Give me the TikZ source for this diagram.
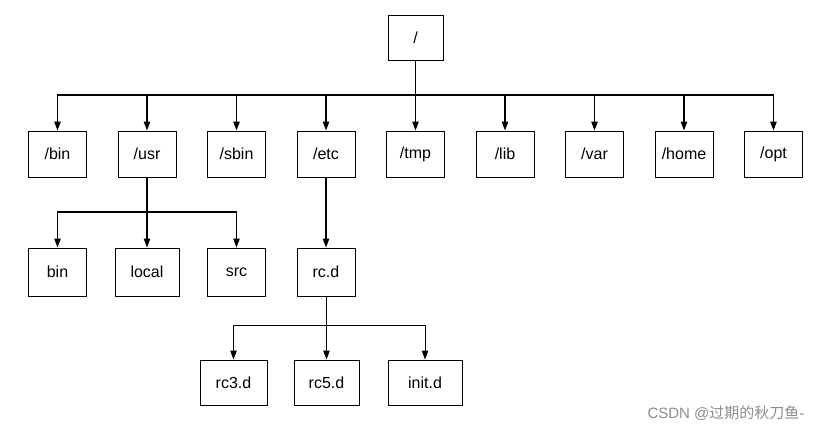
\documentclass[tikz,border=0pt]{standalone}
\usepackage{fontspec}
\setmainfont{Liberation Sans}
\newfontfamily\cjk{Noto Sans CJK SC}
\usetikzlibrary{arrows.meta, positioning}

\begin{document}
\begin{tikzpicture}[x=1pt, y=-1pt]
	\tikzset {>={Triangle[length=9pt, width=6.5pt]}, node distance=30.5pt,
		dir/.style={draw, line width=1pt, minimum width=58pt, minimum height=46pt, font=\fontsize{16}{18}\selectfont},
		link/.style={->, line width=1.2pt} }
	\useasboundingbox (0,0) rectangle (819,434);
	
	\node[dir, minimum width=55pt, minimum height=45pt] (root) at (415.5,37.5) {/};
	
	% first level
	\node[dir] (bin) at (57.5,154) {/bin};
	\node[dir, right=of bin] (usr) {/usr};
	\node[dir, right=of usr] (sbin) {/sbin};
	\node[dir, right=of sbin] (etc) {/etc};
	\node[dir, right=of etc] (tmp) {/tmp};
	\node[dir, right=of tmp] (lib) {/lib};
	\node[dir, right=of lib] (var) {/var};
	\node[dir, right=of var] (home) {/home};
	\node[dir, right=of home] (opt) {/opt};
	\coordinate (bus1) at (0,95);
	
	% under /usr and /etc
	\node[dir, minimum height=48pt] (ubin) at (57.5,272) {bin};
	\node[dir, minimum width=64pt, minimum height=48pt] (local) at (usr |- ubin) {local};
	\node[dir, minimum height=48pt] (src) at (sbin |- ubin) {src};
	\node[dir, minimum height=48pt] (rcd) at (etc |- ubin) {rc.d};
	\coordinate (bus2) at (0,212);
	
	% under rc.d
	\node[dir, minimum width=67pt, minimum height=45pt] (rc3) at (233.5,382.5) {rc3.d};
	\node[dir, minimum width=65pt, minimum height=45pt] (rc5) at (326.5,382.5) {rc5.d};
	\node[dir, minimum width=74pt, minimum height=45pt] (init) at (425,382.5) {init.d};
	\coordinate (bus3) at (0,325);
	
	\foreach \d in {bin,usr,sbin,etc,tmp,lib,var,home,opt}
		\draw[link] (root.south) |- (bus1 -| \d.north) -- (\d.north);
	\foreach \d in {ubin,local,src}
		\draw[link] (usr.south) |- (bus2 -| \d.north) -- (\d.north);
	\draw[link] (etc.south) -- (rcd.north);
	\foreach \d in {rc3,rc5,init}
		\draw[link, line width=1pt] (rcd.south) |- (bus3 -| \d.north) -- (\d.north);
	
	\node[text=black!45, font=\fontsize{15}{18}\selectfont, anchor=east] (mark) at (808,413) {CSDN @{\cjk 过期的秋刀鱼}-};
\end{tikzpicture}
\end{document}
